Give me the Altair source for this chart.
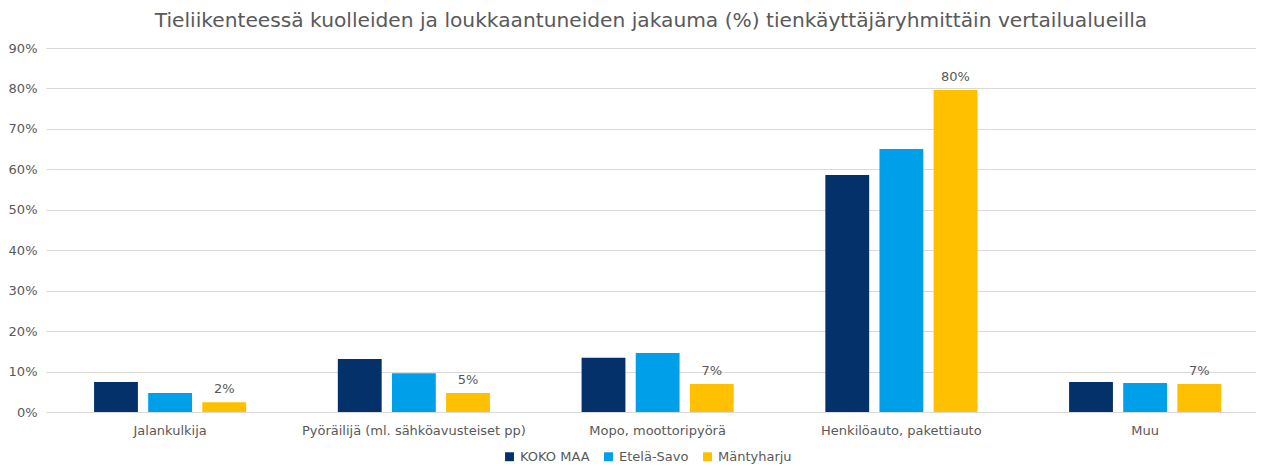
import altair as alt
import pandas as pd

categories = ["Jalankulkija", "Pyöräilijä (ml. sähköavusteiset pp)", "Mopo, moottoripyörä",
              "Henkilöauto, pakettiauto", "Muu"]
series = ["KOKO MAA", "Etelä-Savo", "Mäntyharju"]
koko_maa = [7.4, 13.1, 13.4, 58.6, 7.4]
etela_savo = [4.7, 9.6, 14.6, 65.0, 7.2]
mantyharju = [2.4, 4.7, 6.9, 79.6, 6.9]
colors = ["#05316B", "#009FEA", "#FFC000"]

rows = []
for s, vals in zip(series, [koko_maa, etela_savo, mantyharju]):
    for c, v in zip(categories, vals):
        rows.append({"cat": c, "series": s, "value": v})
df = pd.DataFrame(rows)

FONT = "DejaVu Sans"
GREY = "#595959"

x = alt.X("cat:N", sort=categories, title=None,
          scale=alt.Scale(paddingInner=0.376, paddingOuter=0.17, align=0.58),
          axis=alt.Axis(labelAngle=0, labelFontSize=13, labelColor=GREY, labelFont=FONT,
                        ticks=False, domain=False, labelPadding=12, labelLimit=400))
xo = alt.XOffset("series:N", sort=series, scale=alt.Scale(paddingInner=0.19, paddingOuter=0))
y = alt.Y("value:Q", title=None,
          scale=alt.Scale(domain=[0, 90]),
          axis=alt.Axis(values=list(range(0, 91, 10)), labelExpr="datum.value + '%'",
                        labelFontSize=13, labelColor=GREY, labelFont=FONT,
                        ticks=False, domain=False, gridColor="#D9D9D9", labelPadding=9))

bars = alt.Chart(df).mark_bar().encode(
    x=x, xOffset=xo, y=y,
    color=alt.Color("series:N", sort=series,
                    scale=alt.Scale(domain=series, range=colors),
                    legend=alt.Legend(title=None, orient="none", direction="horizontal",
                                      legendX=457, legendY=402,
                                      symbolType="square", symbolSize=80, labelFontSize=13,
                                      labelColor=GREY, labelFont=FONT, columnPadding=12,
                                      symbolStrokeWidth=0, labelOffset=4))
)

labels = alt.Chart(df).transform_filter(
    alt.datum.series == "Mäntyharju"
).transform_calculate(
    frac="datum.value / 100"
).mark_text(dy=-13, fontSize=13, color=GREY, font=FONT).encode(
    x=x, xOffset=xo, y=y,
    text=alt.Text("frac:Q", format=".0%")
)

chart = alt.layer(bars, labels).properties(
    width=1210, height=364,
    title=alt.TitleParams("Tieliikenteessä kuolleiden ja loukkaantuneiden jakauma (%) tienkäyttäjäryhmittäin vertailualueilla",
                          fontSize=20.2, font=FONT, color=GREY, fontWeight="normal", offset=11),
    padding={"left": 0, "right": 0, "top": 2, "bottom": 0}
).configure_view(stroke=None)

chart.save("out.html", embed_options={"renderer": "svg", "actions": False})
